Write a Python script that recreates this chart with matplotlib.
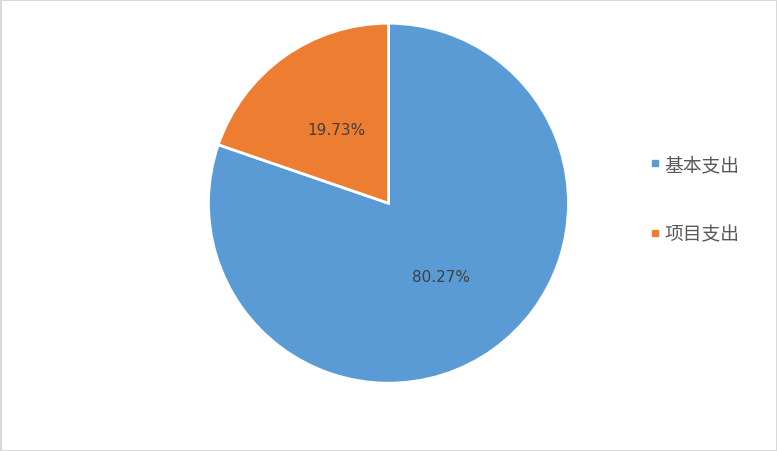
import matplotlib.pyplot as plt
from matplotlib.lines import Line2D

plt.rcParams['font.family'] = ['Noto Sans CJK SC', 'DejaVu Sans']

categories = ["基本支出", "项目支出"]
shares = [80.27, 19.73]
colors = ["#5b9bd5", "#ed7d31"]

fig = plt.figure(figsize=(7.77, 4.52), dpi=100, facecolor='white',
                 edgecolor='#d9d9d9', linewidth=2)
ax = fig.add_axes([0.2683, 0.150, 360 / 777, 360 / 452])

wedges, texts, autotexts = ax.pie(
    shares, colors=colors, startangle=90, counterclock=False,
    autopct='%.2f%%', pctdistance=0.5,
    wedgeprops=dict(edgecolor='white', linewidth=2))
for t in autotexts:
    t.set_color('#404040')
    t.set_fontsize(11)
    t.set_family('DejaVu Sans')
ax.set_xlim(-1, 1)
ax.set_ylim(-1, 1)
ax.set_aspect('equal')

handles = [Line2D([], [], marker='s', linestyle='', markersize=5,
                  color=c) for c in colors]
leg = fig.legend(handles, categories, loc='center left',
                 bbox_to_anchor=(0.8095, 0.557), frameon=False,
                 fontsize=13.5, labelspacing=2.59, handletextpad=0.0,
                 handlelength=1.0)
for t in leg.get_texts():
    t.set_color('#595959')

fig.savefig('out.png', dpi=100, facecolor=fig.get_facecolor(),
            edgecolor=fig.get_edgecolor())
